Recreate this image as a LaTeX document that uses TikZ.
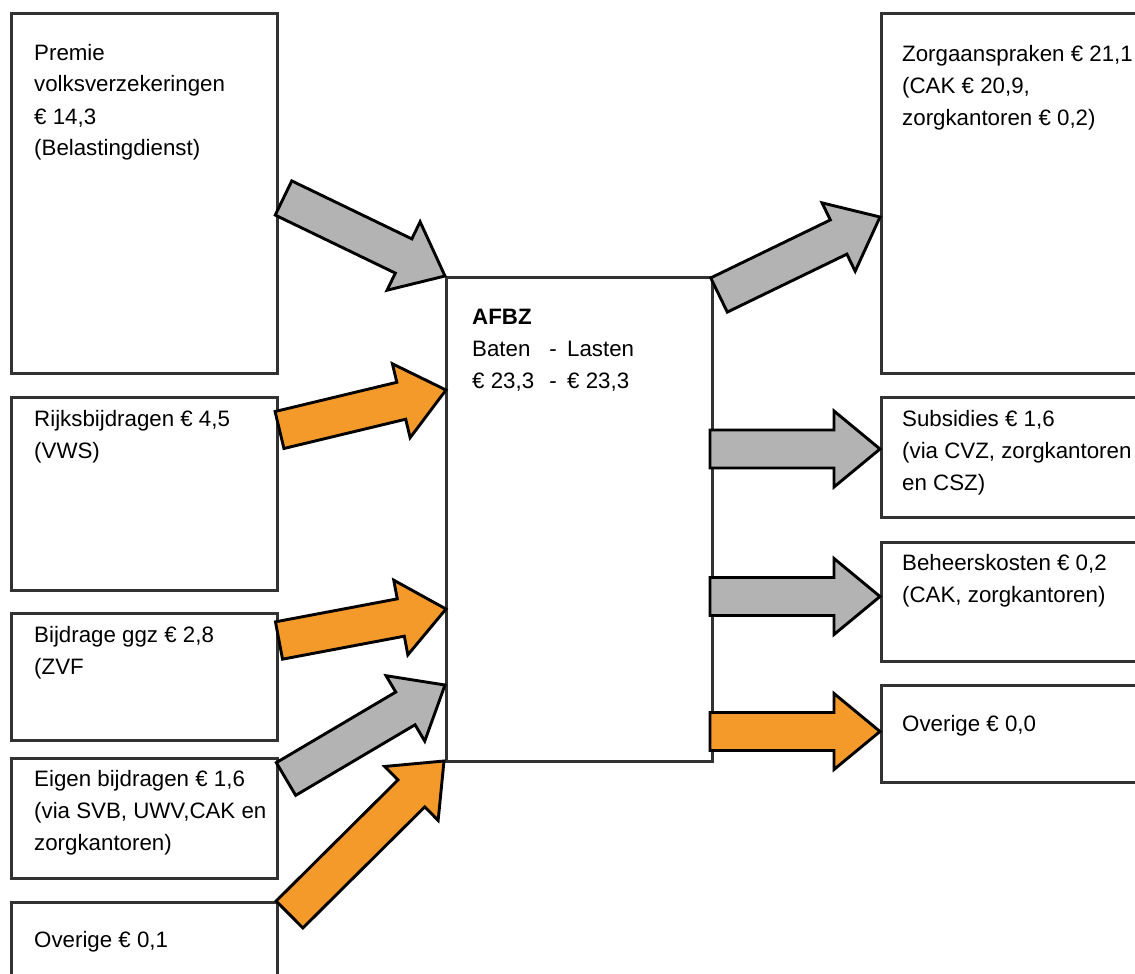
\documentclass[tikz,border=0pt]{standalone}
\usepackage{fontspec}
\setmainfont{Liberation Sans}
\usetikzlibrary{calc}
\definecolor{arrowgrey}{RGB}{179,179,179}
\definecolor{arroworange}{RGB}{244,154,42}
\definecolor{boxline}{RGB}{50,50,50}
\newcommand\txtlines[1]{\begin{tabular}[t]{@{}l@{}}#1\end{tabular}}
\newcommand\fatarrow[3]{%
  \path ($(#2)!46pt!(#1)$) coordinate (fa-h);
  \filldraw[arrowline, fill=#3]
    ($(#1)!19pt!90:(#2)$) -- ($(fa-h)!19pt!90:(#2)$) -- ($(fa-h)!38pt!90:(#2)$)
    -- (#2) -- ($(fa-h)!38pt!-90:(#2)$) -- ($(fa-h)!19pt!-90:(#2)$)
    -- ($(#1)!19pt!-90:(#2)$) -- cycle;
}
\tikzset{
  box/.style={draw=boxline, line width=2.9pt, fill=white, rectangle, inner sep=0pt, anchor=north west},
  txt/.style={anchor=base west, inner sep=0pt, font=\fontsize{22.3}{32}\selectfont, text=black},
  arrowline/.style={draw=black, line width=2.9pt, line join=miter}
}
\begin{document}
\begin{tikzpicture}[x=1pt, y=-1pt]
\useasboundingbox (0,0) rectangle (1135,974);
% boxes
\node[box, minimum width=266pt, minimum height=360pt] (b1) at (10,12) {};
\node[box, minimum width=266pt, minimum height=193pt] (b2) at (10,396) {};
\node[box, minimum width=266pt, minimum height=127pt] (b3) at (10,612) {};
\node[box, minimum width=266pt, minimum height=120pt] (b4) at (10,757) {};
\node[box, minimum width=266pt, minimum height=110pt] (b5) at (10,901) {};
\node[box, minimum width=266pt, minimum height=484pt] (afbz) at (445,276) {};
\node[box, minimum width=320pt, minimum height=360pt] (r1) at (880,12) {};
\node[box, minimum width=320pt, minimum height=120pt] (r2) at (880,396) {};
\node[box, minimum width=320pt, minimum height=119pt] (r3) at (880,541) {};
\node[box, minimum width=320pt, minimum height=97pt] (r4) at (880,684) {};
% texts
\node[txt] (t1) at (34,60) {\txtlines{Premie\\volksverzekeringen\\€ 14,3\\(Belastingdienst)}};
\node[txt] (t2) at (34,426) {\txtlines{Rijksbijdragen € 4,5\\(VWS)}};
\node[txt] (t3) at (34,642) {\txtlines{Bijdrage ggz € 2,8\\(ZVF}};
\node[txt] (t4) at (34,786) {\txtlines{Eigen bijdragen € 1,6\\(via SVB, UWV,CAK en\\zorgkantoren)}};
\node[txt] (t5) at (34,947) {Overige € 0,1};
\node[txt] (tc) at (472,324) {\txtlines{\textbf{AFBZ}\\\makebox[81pt][l]{Baten}\makebox[0pt][c]{-}\hspace{14pt}Lasten\\\makebox[81pt][l]{€ 23,3}\makebox[0pt][c]{-}\hspace{14pt}€ 23,3}};
\node[txt] (u1) at (902,62) {\txtlines{Zorgaanspraken € 21,1\\(CAK € 20,9,\\zorgkantoren € 0,2)}};
\node[txt] (u2) at (902,426) {\txtlines{Subsidies € 1,6\\(via CVZ, zorgkantoren\\en CSZ)}};
\node[txt] (u3) at (902,570) {\txtlines{Beheerskosten € 0,2\\(CAK, zorgkantoren)}};
\node[txt] (u4) at (902,731) {Overige € 0,0};
% arrow end points
\coordinate (aA) at (283.5,198);   \coordinate (zA) at (afbz.north west);
\coordinate (aB) at (279.5,430);   \coordinate (zB) at (446,390);
\coordinate (aC) at (279,640.5);   \coordinate (zC) at (446,609);
\coordinate (aD) at (286,779);     \coordinate (zD) at (445,685);
\coordinate (aE) at (289.5,914.5); \coordinate (zE) at (444,761);
\coordinate (aF) at (719,295);     \coordinate (zF) at (880,217);
\coordinate (aG) at (710,449);     \coordinate (zG) at (880,449);
\coordinate (aH) at (710,596.5);   \coordinate (zH) at (880,596.5);
\coordinate (aI) at (710,731.5);   \coordinate (zI) at (880,731.5);
% arrows
\fatarrow{aA}{zA}{arrowgrey}
\fatarrow{aB}{zB}{arroworange}
\fatarrow{aC}{zC}{arroworange}
\fatarrow{aD}{zD}{arrowgrey}
\fatarrow{aE}{zE}{arroworange}
\fatarrow{aF}{zF}{arrowgrey}
\fatarrow{aG}{zG}{arrowgrey}
\fatarrow{aH}{zH}{arrowgrey}
\fatarrow{aI}{zI}{arroworange}
\end{tikzpicture}
\end{document}
